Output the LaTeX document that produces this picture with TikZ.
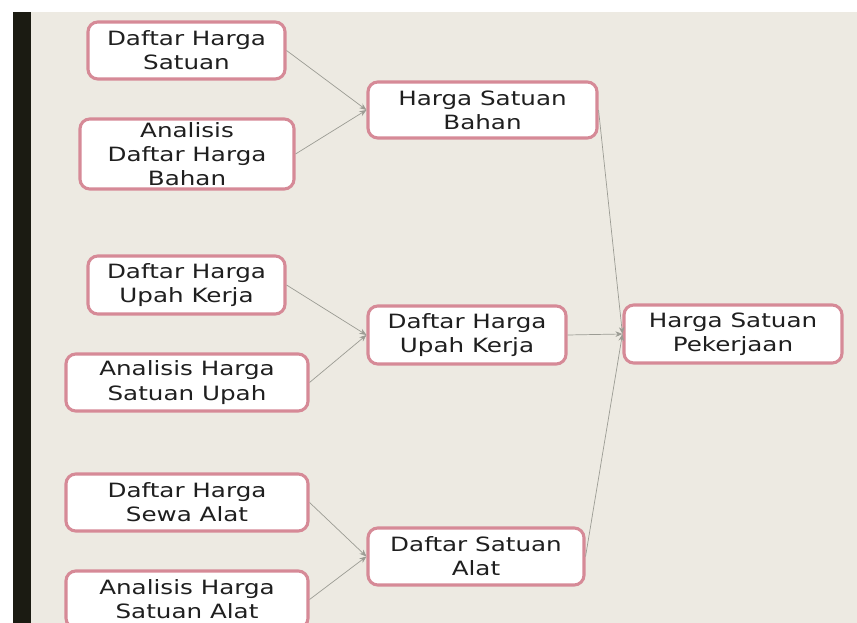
\documentclass[tikz,border=0pt]{standalone}
\usepackage{fontspec}
\setmainfont[FakeStretch=1.25]{DejaVu Sans}
\usetikzlibrary{arrows.meta}
\definecolor{bgbeige}{HTML}{EDEAE2}
\definecolor{barblack}{HTML}{1B1B12}
\definecolor{rosa}{HTML}{D68A97}
\definecolor{linegray}{HTML}{9C9C94}
\begin{document}
\begin{tikzpicture}[x=0.025cm,y=-0.025cm,
		box/.style 2 args={draw=rosa,line width=2.2pt,fill=white,rounded corners=7pt,
			align=center,inner sep=0pt,text=black!88,
			font=\fontsize{14}{17.2}\selectfont,
			minimum width=#1*0.025cm,minimum height=#2*0.025cm},
		link/.style={draw=linegray,line width=0.5pt,-{Stealth[length=5pt,width=4pt]}}]
		\clip (0,0) rectangle (857,623);
		\fill[white] (0,0) rectangle (857,623);
		\fill[bgbeige] (13,12) rectangle (857,623);
		\fill[barblack] (13,12) rectangle (31,623);
		% first column
		\node[box={197}{57}] (sat) 		at (186.5,50.5) {Daftar Harga\\Satuan};
		\node[box={214}{70}] (anbahan) 	at (187,154) 	{Analisis\\Daftar Harga\\Bahan};
		\node[box={197}{58}] (upah) 	at (186.5,285) 	{Daftar Harga\\Upah Kerja};
		\node[box={242}{57}] (anupah) 	at (187,382.5) 	{Analisis Harga\\Satuan Upah};
		\node[box={242}{57}] (sewa) 	at (187,502.5) 	{Daftar Harga\\Sewa Alat};
		\node[box={242}{57}] (analat) 	at (187,599.5) 	{Analisis Harga\\Satuan Alat};
		% second column
		\node[box={229}{56}] (hsbahan) 	at (482.5,110) 	{Harga Satuan\\Bahan};
		\node[box={198}{58}] (dhupah) 	at (467,335) 	{Daftar Harga\\Upah Kerja};
		\node[box={216}{57}] (dsalat) 	at (476,556.5) 	{Daftar Satuan\\Alat};
		% result
		\node[box={218}{58}] (hsp) 		at (733,334) 	{Harga Satuan\\Pekerjaan};
		\draw[link] (sat.east) 		-- (hsbahan.west);
		\draw[link] (anbahan.east) 	-- (hsbahan.west);
		\draw[link] (upah.east) 	-- (dhupah.west);
		\draw[link] (anupah.east) 	-- (dhupah.west);
		\draw[link] (sewa.east) 	-- (dsalat.west);
		\draw[link] (analat.east) 	-- (dsalat.west);
		\draw[link] (hsbahan.east) 	-- (hsp.west);
		\draw[link] (dhupah.east) 	-- (hsp.west);
		\draw[link] (dsalat.east) 	-- (hsp.west);
	\end{tikzpicture}
\end{document}
